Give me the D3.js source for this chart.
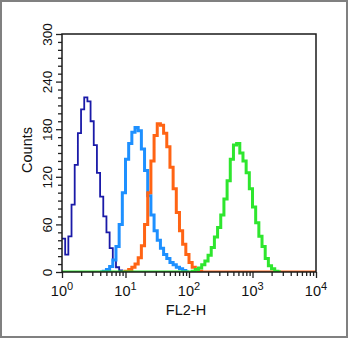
<!DOCTYPE html>
<html>
<head>
<meta charset="utf-8">
<script src="https://cdn.jsdelivr.net/npm/d3@7"></script>
<style>
  body { margin: 0; background: #fff; }
  text { font-family: "Liberation Sans", Arial, sans-serif; fill: #111; }
</style>
</head>
<body>
<svg id="chart" width="350" height="339"></svg>
<script>
'use strict';

// histogram channels, 0.05 decade wide, counts
var binWidth = 0.05;

var darkBlueStart = 0;
var darkBlue = [42, 22, 45, 85, 135, 175, 205, 220, 215, 190, 160, 125, 95, 70, 50, 30, 15, 6, 2, 0];

var lightBlueStart = 0.6;
var lightBlue = [0, 1, 3, 7, 15, 32, 60, 100, 142, 162, 176, 182, 178, 155, 128, 96, 72, 52, 40, 30, 22, 17, 12, 9, 6, 4, 2, 0];

var orangeStart = 0.95;
var orange = [0, 1, 3, 6, 10, 18, 33, 60, 100, 140, 172, 187, 185, 175, 158, 132, 105, 75, 52, 35, 22, 12, 6, 3, 1, 0];

var greenStart = 1.95;
var green = [0, 0, 1, 3, 5, 9, 14, 21, 31, 44, 56, 72, 92, 115, 142, 160, 162, 150, 140, 125, 105, 82, 62, 45, 32, 17, 8, 4, 1, 0];

var yTicks = d3.range(0, 301, 10);
var yTickLabels = [0, 60, 120, 180, 240, 300];
var xExponents = [0, 1, 2, 3, 4];

var svg = d3.select('#chart');

var margin = {left: 62, top: 34, right: 316, bottom: 272};

var x = d3.scaleLog().domain([1, 10000]).range([margin.left, margin.right]);
var y = d3.scaleLinear().domain([0, 300]).range([margin.bottom, margin.top]);

// outer picture border
svg.append('rect')
    .attr('x', 1).attr('y', 1)
    .attr('width', 346).attr('height', 336)
    .attr('fill', 'none')
    .attr('stroke', '#808080')
    .attr('stroke-width', 2);

svg.append('clipPath').attr('id', 'plot-clip')
  .append('rect')
    .attr('x', margin.left).attr('y', margin.top - 2)
    .attr('width', margin.right - margin.left)
    .attr('height', margin.bottom - margin.top + 2);

function toPoints(start, counts) {
    var pts = counts.map(function(c, i) {
        return [Math.pow(10, start + i * binWidth), c];
    });
    pts.push([Math.pow(10, start + counts.length * binWidth), counts[counts.length - 1]]);
    return pts;
}

var line = d3.line()
    .x(function(d) { return x(d[0]); })
    .y(function(d) { return y(d[1]); })
    .curve(d3.curveStepAfter);

var plot = svg.append('g').attr('clip-path', 'url(#plot-clip)');

var greenPts = [[1, 0]].concat(toPoints(greenStart, green));
var orangePts = toPoints(orangeStart, orange).concat([[10000, 0]]);

var series = [
    {pts: toPoints(darkBlueStart, darkBlue), color: '#1a1aa8', width: 1.8},
    {pts: toPoints(lightBlueStart, lightBlue), color: '#1e90ff', width: 3},
    {pts: orangePts, color: '#ff6414', width: 3},
    {pts: greenPts, color: '#2ee62e', width: 3}
];

plot.selectAll('path.hist')
    .data(series)
    .enter()
    .append('path')
    .attr('class', 'hist')
    .attr('d', function(d) { return line(d.pts); })
    .attr('fill', 'none')
    .attr('stroke', function(d) { return d.color; })
    .attr('stroke-width', function(d) { return d.width; })
    .attr('stroke-linejoin', 'miter');

// y axis
var yAxis = d3.axisLeft(y)
    .tickValues(yTicks)
    .tickSize(4)
    .tickFormat(function(d) { return yTickLabels.indexOf(d) >= 0 ? d : ''; });

var gy = svg.append('g')
    .attr('transform', 'translate(' + margin.left + ',0)')
    .call(yAxis);
gy.select('.domain').remove();
gy.selectAll('.tick line')
    .attr('stroke', '#222')
    .attr('stroke-width', 1.3)
    .attr('x2', function(d) { return yTickLabels.indexOf(d) >= 0 ? -6 : -4; });
gy.selectAll('.tick text')
    .attr('x', 0).attr('y', -10).attr('dy', 0)
    .attr('text-anchor', 'middle')
    .attr('transform', 'rotate(-90)')
    .style('font-size', '13.5px')
    .style('font-family', '"Liberation Sans", Arial, sans-serif')
    .attr('fill', '#111');

// x axis
var xTicks = [];
xExponents.forEach(function(e) {
    if (e < 4) {
        for (var k = 1; k < 10; k++) xTicks.push(k * Math.pow(10, e));
    } else {
        xTicks.push(Math.pow(10, e));
    }
});

var xAxis = d3.axisBottom(x)
    .tickValues(xTicks)
    .tickSize(4)
    .tickFormat('');

var gx = svg.append('g')
    .attr('transform', 'translate(0,' + margin.bottom + ')')
    .call(xAxis);
gx.select('.domain').remove();
gx.selectAll('.tick line')
    .attr('stroke', '#222')
    .attr('stroke-width', 1.3)
    .attr('y2', function(d) { return Math.abs(Math.log10(d) % 1) < 1e-9 ? 6 : 4; });

var xl = svg.append('g').selectAll('text')
    .data(xExponents)
    .enter()
    .append('text')
    .attr('x', function(d) { return x(Math.pow(10, d)); })
    .attr('y', 296)
    .attr('text-anchor', 'middle')
    .style('font-size', '14.5px');
xl.append('tspan').text('10');
xl.append('tspan')
    .attr('dy', -6)
    .style('font-size', '11px')
    .text(function(d) { return d; });

// frame
svg.append('rect')
    .attr('x', margin.left).attr('y', margin.top)
    .attr('width', margin.right - margin.left)
    .attr('height', margin.bottom - margin.top)
    .attr('fill', 'none')
    .attr('stroke', '#1a1a1a')
    .attr('stroke-width', 1.5);

svg.append('text')
    .attr('x', (margin.left + margin.right) / 2 - 3)
    .attr('y', 315)
    .attr('text-anchor', 'middle')
    .style('font-size', '14.5px')
    .text('FL2-H');

svg.append('text')
    .attr('transform', 'translate(32,150) rotate(-90)')
    .attr('text-anchor', 'middle')
    .style('font-size', '14.5px')
    .text('Counts');
</script>
</body>
</html>
